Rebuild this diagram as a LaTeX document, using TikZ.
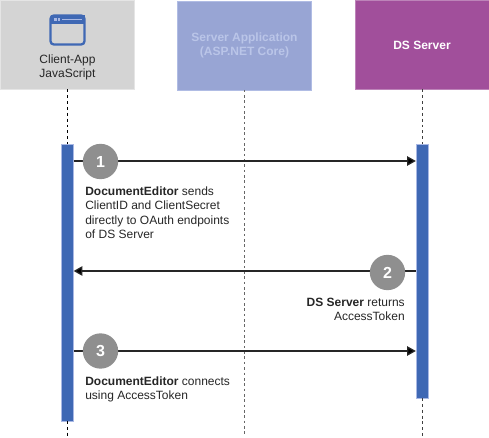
\documentclass[tikz,border=0pt]{standalone}
\usepackage{fontspec}
\setmainfont{Liberation Sans}
\usetikzlibrary{arrows.meta}
\definecolor{clientgray}{HTML}{D4D4D4}
\definecolor{serverblue}{HTML}{98A5D4}
\definecolor{serverline}{HTML}{B0BCE4}
\definecolor{serverfaint}{HTML}{BAC5E8}
\definecolor{dspurple}{HTML}{A14F9B}
\definecolor{barblue}{HTML}{3F68B4}
\definecolor{barline}{HTML}{A9B8E4}
\definecolor{stepgray}{HTML}{8F8F8F}
\definecolor{txt}{HTML}{262626}
\tikzset{
  x=0.75pt,y=-0.75pt,
  head/.style={minimum width=100.5pt,minimum height=66.5pt,inner sep=0pt,outer sep=0pt,align=center},
  actbar/.style={fill=barblue,draw=barline,line width=0.4pt,minimum width=9.2pt,inner sep=0pt,outer sep=0pt},
  stepnum/.style={circle,fill=stepgray,text=white,minimum size=26.5pt,inner sep=0pt,font=\bfseries\fontsize{12}{12}\selectfont},
  msg/.style={line width=0.9pt,draw=black!85,-{Triangle[length=6.5pt,width=7pt,fill=black]}},
  life/.style={line width=0.75pt,dash pattern=on 2.2pt off 2.2pt},
  note/.style={text=txt,inner sep=0pt,align=left,font=\fontsize{9}{10.8}\selectfont},
  noter/.style={text=txt,inner sep=0pt,align=right,font=\fontsize{9}{10.8}\selectfont}
}
\begin{document}
\begin{tikzpicture}
\useasboundingbox (0,0) rectangle (489,438);
% heads
\node[head,fill=clientgray,draw=clientgray!60!white,line width=0.4pt] (client) at (67.5,45) {};
\node[text=txt,align=center,inner sep=0pt,font=\fontsize{9}{11}\selectfont] (clientlabel) at (67.5,67.5) {Client-App\\JavaScript};
\node[head,fill=serverblue,draw=serverline,line width=0.4pt,text=serverfaint,font=\bfseries\fontsize{9}{10.8}\selectfont] (server) at (244.5,45.5) {Server Application\\(ASP.NET Core)};
\node[head,fill=dspurple,draw=dspurple!70!white,line width=0.4pt,text=white,font=\bfseries\fontsize{9}{11}\selectfont] (ds) at (422,45) {DS Server};
% icon
\draw[barblue,line width=1.7pt,rounded corners=2.5pt] (50.5,15.5) rectangle (84.5,44.5);
\fill[barblue] (50.5,15.5) rectangle (84.5,24.5);
\fill[barline] (54,18.5) rectangle (56.5,21);
\fill[barline] (57.5,18.5) rectangle (60,21);
\fill[barline] (61.5,19) rectangle (82,20.5);
% activation bars
\node[actbar,minimum height=207.7pt] (barc) at (67.5,282.5) {};
\node[actbar,minimum height=190.5pt] (bard) at (422,271) {};
% lifelines
\coordinate (cend) at (67.5,436);
\coordinate (send) at (244.5,436);
\coordinate (dend) at (422,436);
\draw[life,black] (client.south) -- (barc.north);
\draw[life,black] (barc.south) -- (cend);
\draw[line width=0.6pt,black!60,dash pattern=on 2pt off 2pt] (server.south) -- (send);
\draw[life,black!75] (ds.south) -- (bard.north);
\draw[life,black!75] (bard.south) -- (dend);
% step anchors
\coordinate (c1) at (barc.east |- 0,161);
\coordinate (d1) at (bard.west |- 0,161);
\coordinate (c2) at (barc.east |- 0,271);
\coordinate (d2) at (bard.west |- 0,271);
\coordinate (c3) at (barc.east |- 0,351);
\coordinate (d3) at (bard.west |- 0,351);
\draw[msg] (c1) -- (d1);
\draw[msg] (d2) -- (c2);
\draw[msg] (c3) -- (d3);
% step numbers
\node[stepnum] (n1) at (100.5,161.5) {1};
\node[stepnum] (n2) at (387.5,272.5) {2};
\node[stepnum] (n3) at (100.5,351) {3};
% notes
\node[note,anchor=north west] (t1) at (85,186.5) {\textbf{DocumentEditor} sends\\ClientID and ClientSecret\\directly to OAuth endpoints\\of DS Server};
\node[noter,anchor=north east] (t2) at (405,297.5) {\textbf{DS Server} returns\\AccessToken};
\node[note,anchor=north west] (t3) at (85,376.5) {\textbf{DocumentEditor} connects\\using AccessToken};
\end{tikzpicture}
\end{document}
